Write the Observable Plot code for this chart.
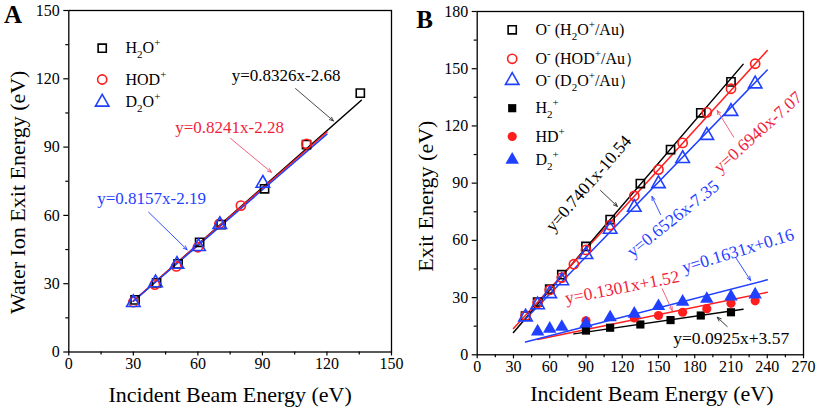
<!DOCTYPE html>
<html><head><meta charset="utf-8">
<script src="https://cdn.jsdelivr.net/npm/d3@7"></script>
<script src="https://cdn.jsdelivr.net/npm/@observablehq/plot@0.6"></script>
<style>
html,body{margin:0;padding:0;background:#fff;}
#wrap{position:relative;width:817px;height:409px;overflow:hidden;background:#fff;}
#wrap svg{position:absolute;top:0;}
#wrap svg text{font-family:'Liberation Serif','Times New Roman',serif;}
</style></head><body><div id="wrap"></div>
<script>
// ---------- Panel A data ----------
const A_xTicks = [0, 30, 60, 90, 120, 150];
const A_yTicks = [0, 30, 60, 90, 120, 150];
const A_xMinor = [15, 45, 75, 105, 135];
const A_yMinor = [15, 45, 75, 105, 135];

const A_H2O_x = [30.8, 40.8, 50.8, 60.8, 70.8, 91, 110.5, 135.5];
const A_H2O_y = [22.9, 30.4, 38.7, 48.2, 56, 71.7, 91.1, 113.7];
const A_HOD_x = [30, 40, 50, 60, 70, 80, 110.5];
const A_HOD_y = [21.9, 29.6, 37.6, 46, 56.3, 64.3, 91.4];
const A_D2O_x = [30, 40.3, 50.3, 60.3, 70.2, 90.2];
const A_D2O_y = [21.7, 30.4, 38.5, 46.3, 56, 74.1];

const A_fitLabels = ["y=0.8326x-2.68", "y=0.8241x-2.28", "y=0.8157x-2.19"];
const A_fitSlope = [0.8326, 0.8241, 0.8157];
const A_fitIntercept = [-2.68, -2.28, -2.19];
const A_fitRange = [[30, 136], [30, 120], [30, 120]];

// ---------- Panel B data ----------
const B_xTicks = [0, 30, 60, 90, 120, 150, 180, 210, 240, 270];
const B_xMinor = [15, 45, 75, 105, 135, 165, 195, 225, 255];
const B_yTicks = [0, 30, 60, 90, 120, 150, 180];
const B_yMinor = [15, 45, 75, 105, 135, 165];

const B_OH2O_x = [40, 50, 60, 70, 90, 110, 135, 160, 185, 210];
const B_OH2O_y = [20.3, 27.6, 34.4, 42, 56.8, 70.9, 89.8, 107.6, 126.9, 143.1];
const B_OHOD_x = [40, 50, 60, 70, 80, 90, 110, 130, 150, 170, 190, 210, 230];
const B_OHOD_y = [20.5, 27.2, 34, 40.5, 47.5, 55, 68, 83.3, 97.1, 111.1, 127.1, 139.5, 152.6];
const B_OD2O_x = [40, 50, 60, 70, 90, 110, 130, 150, 170, 190, 210, 230];
const B_OD2O_y = [19.8, 26.2, 32, 38.8, 52.5, 65.8, 77.3, 89.7, 102.9, 115, 127.6, 142];
const B_H2_x = [90, 110, 135, 160, 185, 210];
const B_H2_y = [12.7, 14.2, 15.9, 18.2, 20.6, 22.3];
const B_HD_x = [90, 130, 150, 170, 190, 210, 230];
const B_HD_y = [17.8, 19.3, 20.6, 22.3, 24.2, 27, 28.3];
const B_D2_x = [50, 60, 70, 90, 110, 130, 150, 170, 190, 210, 230];
const B_D2_y = [12.2, 13.6, 14.6, 16.4, 19.6, 21.5, 25.5, 27.8, 29.3, 30.5, 31.6];

const B_fitLabels = ["y=0.7401x-10.54", "y=0.6940x-7.07", "y=0.6526x-7.35", "y=0.0925x+3.57", "y=0.1301x+1.52", "y=0.1631x+0.16"];
const B_fitSlope = [0.7401, 0.6940, 0.6526, 0.0925, 0.1301, 0.1631];
const B_fitIntercept = [-10.54, -7.07, -7.35, 3.57, 1.52, 0.16];
const B_fitRange = [[30, 220], [30, 240], [38, 240], [80, 220], [50, 240], [40, 240]];

// ---------- styles / layout ----------
const FONT = "'Liberation Serif','Times New Roman',serif";
const BLACK = "#000000", RED = "#ff1e1e", BLUE = "#1f40ff";

const A_cfg = {
  left: 0, width: 410, margin: {left: 68.3, right: 19, top: 10, bottom: 57.5},
  xDomain: [0, 150], yDomain: [0, 150],
  xTicks: A_xTicks, xMinor: A_xMinor, yTicks: A_yTicks, yMinor: A_yMinor,
  series: [
    {xs: A_H2O_x, ys: A_H2O_y, symbol: "square", filled: false, color: BLACK},
    {xs: A_HOD_x, ys: A_HOD_y, symbol: "circle", filled: false, color: RED},
    {xs: A_D2O_x, ys: A_D2O_y, symbol: "triangle", filled: false, color: BLUE}
  ],
  fitColors: [BLACK, RED, BLUE],
  fitSlope: A_fitSlope, fitIntercept: A_fitIntercept, fitRange: A_fitRange,
  notes: [
    {label: A_fitLabels[0], x: 101, y: 121.5, rotate: 0, color: BLACK},
    {label: A_fitLabels[1], x: 74.7, y: 98.6, rotate: 0, color: "#f01e3c"},
    {label: A_fitLabels[2], x: 38.5, y: 67.4, rotate: 0, color: BLUE}
  ],
  noteSize: 17,
  arrows: [
    {x1: 105.4, y1: 115.7, x2: 123, y2: 101.5, color: "#333333"},
    {x1: 75.2, y1: 93.8, x2: 94.2, y2: 78.9, color: "#f0506e"},
    {x1: 37.1, y1: 61.4, x2: 55, y2: 44.9, color: BLUE}
  ],
  legend: [
    {label: "H_2O^+", symbol: "square", filled: false, color: BLACK, dy: 37.7},
    {label: "HOD^+", symbol: "circle", filled: false, color: RED, dy: 69},
    {label: "D_2O^+", symbol: "triangle", filled: false, color: BLUE, dy: 91.7}
  ],
  legendSymDx: 33.4, legendTextDx: 56.7,
  letter: "A", letterDx: -55.8, letterDy: 4.5,
  xTitle: "Incident Beam Energy (eV)", xTitleDx: 0, xTitleDy: 43,
  yTitle: "Water Ion Exit Energy (eV)", yTitleDx: -51.3, yTitleDy: 11
};

const B_cfg = {
  left: 410, width: 407, margin: {left: 66.7, right: 14, top: 11, bottom: 54.7},
  xDomain: [0, 270], yDomain: [0, 180],
  xTicks: B_xTicks, xMinor: B_xMinor, yTicks: B_yTicks, yMinor: B_yMinor,
  series: [
    {xs: B_OH2O_x, ys: B_OH2O_y, symbol: "square", filled: false, color: BLACK},
    {xs: B_OHOD_x, ys: B_OHOD_y, symbol: "circle", filled: false, color: RED},
    {xs: B_OD2O_x, ys: B_OD2O_y, symbol: "triangle", filled: false, color: BLUE},
    {xs: B_H2_x, ys: B_H2_y, symbol: "square", filled: true, color: BLACK},
    {xs: B_HD_x, ys: B_HD_y, symbol: "circle", filled: true, color: RED},
    {xs: B_D2_x, ys: B_D2_y, symbol: "triangle", filled: true, color: BLUE}
  ],
  fitColors: [BLACK, RED, BLUE, BLACK, RED, BLUE],
  fitSlope: B_fitSlope, fitIntercept: B_fitIntercept, fitRange: B_fitRange,
  notes: [
    {label: B_fitLabels[0], x: 92.1, y: 89.8, rotate: -49, color: BLACK},
    {label: B_fitLabels[1], x: 232.3, y: 116.7, rotate: -42, color: "#f01e3c"},
    {label: B_fitLabels[2], x: 162, y: 71.3, rotate: -38.5, color: BLUE},
    {label: B_fitLabels[3], x: 210.2, y: 8.4, rotate: 0, color: BLACK},
    {label: B_fitLabels[4], x: 120, y: 35.3, rotate: -11, color: "#f01e3c"},
    {label: B_fitLabels[5], x: 215.8, y: 54.4, rotate: -17, color: BLUE}
  ],
  noteSize: 17.5,
  arrows: [
    {x1: 102, y1: 86.2, x2: 116, y2: 77.8, color: "#222222"},
    {x1: 212.3, y1: 114.1, x2: 198.6, y2: 128.1, color: "#f0506e"},
    {x1: 151.8, y1: 73.5, x2: 144.6, y2: 83, color: BLUE},
    {x1: 213.7, y1: 51.2, x2: 226.2, y2: 39, color: BLUE},
    {x1: 153.1, y1: 34.6, x2: 161.4, y2: 23.2, color: "#f0506e"},
    {x1: 206.9, y1: 14.8, x2: 198.6, y2: 19.7, color: "#222222"}
  ],
  legend: [
    {label: "O^- (H_2O^+/Au)", symbol: "square", filled: false, color: BLACK, dy: 18.3},
    {label: "O^- (HOD^+/Au）", symbol: "circle", filled: false, color: RED, dy: 47.3},
    {label: "O^- (D_2O^+/Au）", symbol: "triangle", filled: false, color: BLUE, dy: 69},
    {label: "H_2^+", symbol: "square", filled: true, color: BLACK, dy: 96.7},
    {label: "HD^+", symbol: "circle", filled: true, color: RED, dy: 125},
    {label: "D_2^+", symbol: "triangle", filled: true, color: BLUE, dy: 148.3}
  ],
  legendSymDx: 35, legendTextDx: 58.3,
  letter: "B", letterDx: -52.7, letterDy: 8,
  xTitle: "Incident Beam Energy (eV)", xTitleDx: 11.5, xTitleDy: 38.7,
  yTitle: "Exit Energy (eV)", yTitleDx: -51.7, yTitleDy: 13
};

function symR(symbol) { return symbol === "triangle" ? 5 : 4.6; }

function buildPanel(c) {
  const marks = [];
  c.fitSlope.forEach((m, i) => {
    const [a, b] = c.fitRange[i];
    const pts = [a, b].map(x => ({x, y: m * x + c.fitIntercept[i]}));
    marks.push(Plot.line(pts, {x: "x", y: "y", stroke: c.fitColors[i], strokeWidth: 1.5}));
  });
  c.series.forEach(s => {
    const pts = s.xs.map((x, i) => ({x, y: s.ys[i]}));
    marks.push(Plot.dot(pts, {
      x: "x", y: "y", symbol: s.symbol, r: symR(s.symbol),
      stroke: s.filled ? "none" : s.color, fill: s.filled ? s.color : "none",
      strokeWidth: 1.6
    }));
  });
  c.arrows.forEach(a => {
    marks.push(Plot.arrow([a], {x1: "x1", y1: "y1", x2: "x2", y2: "y2", stroke: a.color, strokeWidth: 0.9, headLength: 7, headAngle: 45}));
  });
  c.notes.forEach(n => {
    marks.push(Plot.text([n], {x: "x", y: "y", text: "label", rotate: n.rotate, fill: n.color, fontSize: c.noteSize,
      fontFamily: FONT, textAnchor: "middle", lineAnchor: "middle"}));
  });
  c.legend.forEach(l => {
    marks.push(Plot.dot([l], {frameAnchor: "top-left", dx: c.legendSymDx, dy: l.dy, symbol: l.symbol, r: symR(l.symbol),
      stroke: l.filled ? "none" : l.color, fill: l.filled ? l.color : "none", strokeWidth: 1.6}));
    marks.push(Plot.text([l], {frameAnchor: "top-left", dx: c.legendTextDx, dy: l.dy, text: "label",
      fontFamily: FONT, textAnchor: "start", lineAnchor: "middle", fontSize: 16, fill: "#000"}));
  });
  marks.push(Plot.axisX(c.xTicks, {tickSize: 4, tickPadding: 2, fontSize: 16, fontFamily: FONT, label: null, strokeWidth: 1.2}));
  marks.push(Plot.axisX(c.xMinor, {tickSize: 3, tickFormat: () => "", label: null, strokeWidth: 1.2}));
  marks.push(Plot.axisY(c.yTicks, {tickSize: 5, tickPadding: 4, fontSize: 16, fontFamily: FONT, label: null, strokeWidth: 1.2}));
  marks.push(Plot.axisY(c.yMinor, {tickSize: 3, tickFormat: () => "", label: null, strokeWidth: 1.2}));
  marks.push(Plot.frame({stroke: "#000", strokeWidth: 1.3}));
  marks.push(Plot.text([c.xTitle], {frameAnchor: "bottom", dx: c.xTitleDx, dy: c.xTitleDy, text: d => d,
    fontFamily: FONT, textAnchor: "middle", lineAnchor: "middle", fontSize: 22, fill: "#000"}));
  marks.push(Plot.text([c.yTitle], {frameAnchor: "left", dx: c.yTitleDx, dy: c.yTitleDy, rotate: -90, text: d => d,
    fontFamily: FONT, textAnchor: "middle", lineAnchor: "middle", fontSize: 22, fill: "#000"}));
  marks.push(Plot.text([c.letter], {frameAnchor: "top-left", dx: c.letterDx, dy: c.letterDy, text: d => d,
    fontFamily: FONT, textAnchor: "middle", lineAnchor: "middle", fontSize: 25, fontWeight: "bold", fill: "#000"}));

  const svg = Plot.plot({
    width: c.width, height: 409,
    marginLeft: c.margin.left, marginRight: c.margin.right, marginTop: c.margin.top, marginBottom: c.margin.bottom,
    x: {domain: c.xDomain, nice: false},
    y: {domain: c.yDomain, nice: false},
    style: {fontFamily: FONT, fontSize: "16px", color: "#000", background: "transparent", overflow: "visible"},
    marks
  });
  svg.style.left = c.left + "px";
  richify(svg);
  return svg;
}

function richify(svg) {
  const NS = "http://www.w3.org/2000/svg";
  svg.querySelectorAll("text").forEach(t => {
    const s = t.textContent;
    if (!/[_^]/.test(s)) return;
    while (t.firstChild) t.removeChild(t.firstChild);
    let shift = 0, buf = "";
    const add = (str, target, small) => {
      const ts = document.createElementNS(NS, "tspan");
      ts.textContent = str;
      const dy = target - shift;
      if (dy) ts.setAttribute("dy", dy);
      if (small) ts.setAttribute("font-size", small);
      shift = target;
      t.appendChild(ts);
    };
    for (let i = 0; i < s.length; i++) {
      const ch = s[i];
      if (ch === "_" || ch === "^") {
        if (buf) { add(buf, 0); buf = ""; }
        add(s[i + 1], ch === "_" ? 5 : -7, "11px");
        i++;
      } else buf += ch;
    }
    if (buf) add(buf, 0);
  });
}

const wrap = document.getElementById("wrap");
wrap.appendChild(buildPanel(A_cfg));
wrap.appendChild(buildPanel(B_cfg));
</script>
</body></html>
